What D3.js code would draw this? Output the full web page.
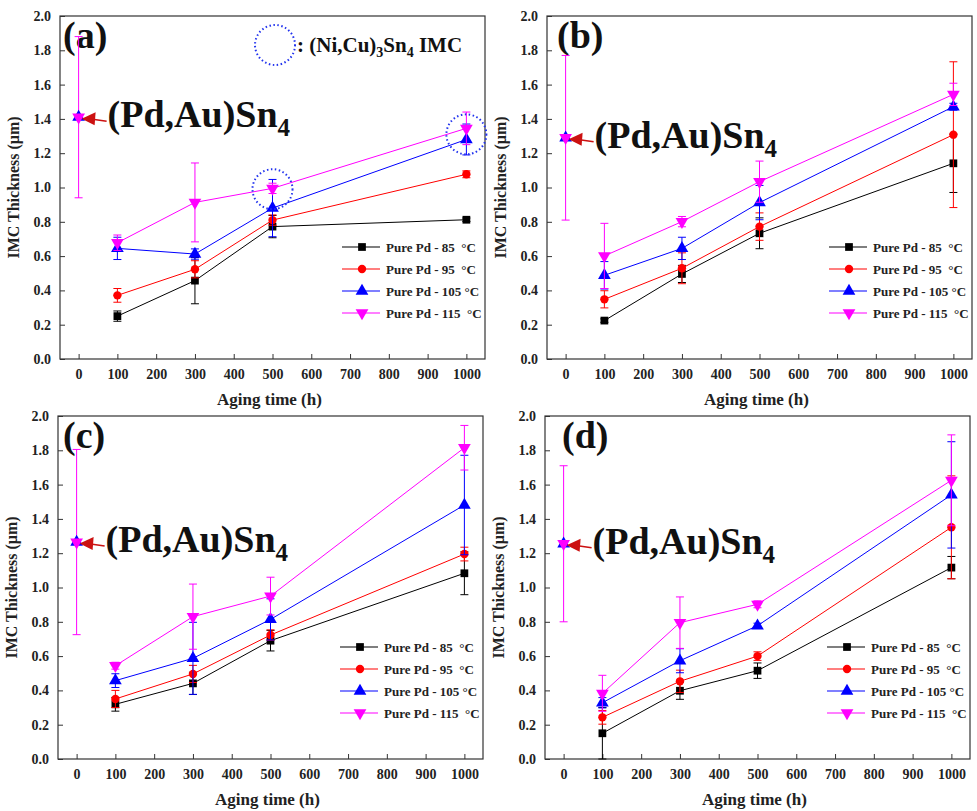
<!DOCTYPE html>
<html>
<head>
<meta charset="utf-8">
<script src="https://cdn.jsdelivr.net/npm/d3@7"></script>
<style>
  body { margin: 0; background: #fff; }
  text { font-family: "Liberation Serif", "Times New Roman", serif; font-weight: bold; }
</style>
</head>
<body>
<svg id="chart"></svg>
<script>
// data
var times = [100, 300, 500, 1000];
var xTicks = [0, 100, 200, 300, 400, 500, 600, 700, 800, 900, 1000];
var yTicks = [0, 0.2, 0.4, 0.6, 0.8, 1.0, 1.2, 1.4, 1.6, 1.8, 2.0];
var seriesNames = ["Pure Pd - 85  \u00B0C", "Pure Pd - 95  \u00B0C", "Pure Pd - 105 \u00B0C", "Pure Pd - 115  \u00B0C"];
var panelLabels = ["(a)", "(b)", "(c)", "(d)"];

var pdAuValues = [1.41, 1.29, 1.265, 1.255];
var pdAuErrors = [0.47, 0.48, 0.54, 0.455];

var valuesA = [
  [0.25, 0.457, 0.772, 0.812],
  [0.371, 0.523, 0.81, 1.077],
  [0.645, 0.612, 0.88, 1.28],
  [0.678, 0.913, 0.995, 1.345]
];
var errorsA = [
  [0.03, 0.135, 0.065, 0.01],
  [0.04, 0.05, 0.03, 0.02],
  [0.065, 0.03, 0.167, 0.09],
  [0.045, 0.23, 0.03, 0.095]
];

var valuesB = [
  [0.224, 0.496, 0.733, 1.141],
  [0.348, 0.529, 0.772, 1.308],
  [0.488, 0.645, 0.912, 1.471],
  [0.601, 0.801, 1.034, 1.543]
];
var errorsB = [
  [0.01, 0.05, 0.09, 0.17],
  [0.05, 0.09, 0.08, 0.425],
  [0.08, 0.065, 0.1, 0.02],
  [0.19, 0.03, 0.12, 0.065]
];

var valuesC = [
  [0.319, 0.441, 0.69, 1.083],
  [0.35, 0.496, 0.723, 1.195],
  [0.457, 0.587, 0.814, 1.481],
  [0.544, 0.83, 0.95, 1.815]
];
var errorsC = [
  [0.04, 0.065, 0.06, 0.125],
  [0.05, 0.05, 0.03, 0.04],
  [0.04, 0.21, 0.12, 0.29],
  [0.02, 0.19, 0.11, 0.13]
];

var valuesD = [
  [0.15, 0.398, 0.515, 1.116],
  [0.243, 0.453, 0.6, 1.351],
  [0.328, 0.573, 0.777, 1.54],
  [0.383, 0.795, 0.902, 1.625]
];
var errorsD = [
  [0.15, 0.05, 0.045, 0.065],
  [0.04, 0.065, 0.025, 0.3],
  [0.03, 0.07, 0.015, 0.31],
  [0.105, 0.15, 0.02, 0.265]
];

// (Ni,Cu)3Sn4 markers in panel (a)
var circleTimes = [500, 1000];
var circleValues = [0.99, 1.31];

var colors = ["#000000", "#ff0000", "#0000ff", "#ff00ff"];
var symbols = [d3.symbolSquare, d3.symbolCircle, d3.symbolTriangle, d3.symbolTriangle];
var symbolSizes = [60, 55, 70, 70];

var serif = "'Liberation Serif', 'Times New Roman', serif";

var width = 425,
    height = 343;

var panels = [
  {left: 60,  top: 16,  labelDx: 3,  values: valuesA, errors: errorsA},
  {left: 547, top: 16,  labelDx: 10, values: valuesB, errors: errorsB},
  {left: 58,  top: 416, labelDx: 5,  values: valuesC, errors: errorsC},
  {left: 545, top: 416, labelDx: 17, values: valuesD, errors: errorsD}
];

var svg = d3.select("#chart")
    .attr("width", 977)
    .attr("height", 811);

svg.append("rect")
    .attr("width", 977)
    .attr("height", 811)
    .attr("fill", "#fff");

var x = d3.scaleLinear().domain([-48, 1048]).range([0, width]);
var y = d3.scaleLinear().domain([0, 2.0]).range([height, 0]);

function marker(g, k, px, py) {
    g.append("path")
        .attr("d", d3.symbol().type(symbols[k]).size(symbolSizes[k])())
        .attr("transform", "translate(" + px + "," + py + ")" + (k == 3 ? " rotate(180)" : ""))
        .attr("fill", colors[k]);
}

function errorBar(g, color, px, v, e) {
    g.append("line")
        .attr("x1", px).attr("x2", px)
        .attr("y1", y(v - e)).attr("y2", y(v + e))
        .attr("stroke", color).attr("stroke-width", 1);
    [v - e, v + e].forEach(function(c) {
        g.append("line")
            .attr("x1", px - 4).attr("x2", px + 4)
            .attr("y1", y(c)).attr("y2", y(c))
            .attr("stroke", color).attr("stroke-width", 1);
    });
}

function drawPanel(p, idx) {
    var g = svg.append("g")
        .attr("transform", "translate(" + p.left + "," + p.top + ")");

    // axes, ticks inward
    var xAxis = d3.axisBottom(x).tickValues(xTicks).tickSizeInner(-5).tickSizeOuter(0).tickPadding(10)
        .tickFormat(d3.format("d"));
    var yAxis = d3.axisLeft(y).tickValues(yTicks).tickSizeInner(-5).tickSizeOuter(0).tickPadding(9)
        .tickFormat(d3.format(".1f"));

    var gx = g.append("g").attr("transform", "translate(0," + height + ")").call(xAxis);
    var gy = g.append("g").call(yAxis);
    [gx, gy].forEach(function(a) {
        a.attr("font-family", serif).attr("font-size", 14);
        a.select(".domain").remove();
        a.selectAll("line").attr("stroke", "#333");
        a.selectAll("text")
            .attr("fill", "#222")
            .style("font-family", serif)
            .style("font-size", "14px")
            .style("font-weight", "bold");
    });

    g.append("rect")
        .attr("width", width)
        .attr("height", height)
        .attr("fill", "none")
        .attr("stroke", "#333")
        .attr("stroke-width", 1.2);

    // axis titles
    g.append("text")
        .attr("transform", "translate(-41," + (height / 2) + ") rotate(-90)")
        .attr("text-anchor", "middle")
        .style("font-size", "16px")
        .attr("fill", "#222")
        .text("IMC Thickness (\u03BCm)");

    g.append("text")
        .attr("x", width / 2 - 3)
        .attr("y", height + 46)
        .attr("text-anchor", "middle")
        .style("font-size", "17px")
        .attr("fill", "#222")
        .text("Aging time (h)");

    // panel label
    g.append("text")
        .attr("x", p.labelDx)
        .attr("y", 32)
        .style("font-size", "38px")
        .attr("fill", "#111")
        .text(panelLabels[idx]);

    // series
    var line = d3.line()
        .x(function(d, i) { return x(times[i]); })
        .y(function(d) { return y(d); });

    p.values.forEach(function(vals, k) {
        g.append("path")
            .datum(vals)
            .attr("d", line)
            .attr("fill", "none")
            .attr("stroke", colors[k])
            .attr("stroke-width", 1);
        vals.forEach(function(v, i) {
            errorBar(g, colors[k], x(times[i]), v, p.errors[k][i]);
        });
        vals.forEach(function(v, i) {
            marker(g, k, x(times[i]), y(v));
        });
    });

    // (Pd,Au)Sn4 at t = 0
    var x0 = x(0), y0 = y(pdAuValues[idx]);
    errorBar(g, colors[3], x0, pdAuValues[idx], pdAuErrors[idx]);
    marker(g, 2, x0, y0);
    marker(g, 3, x0, y0);

    g.append("line")
        .attr("x1", x0 + 28).attr("y1", y0 + 4)
        .attr("x2", x0 + 14).attr("y2", y0 + 2)
        .attr("stroke", "#cc1111").attr("stroke-width", 1.5);
    g.append("path")
        .attr("d", "M" + (x0 + 3) + "," + (y0 + 1.5) + "L" + (x0 + 17) + "," + (y0 - 5) + "L" + (x0 + 16) + "," + (y0 + 8) + "Z")
        .attr("fill", "#cc1111");

    var t = g.append("text")
        .attr("x", x0 + 29)
        .attr("y", y0 + 10)
        .style("font-size", "38px")
        .attr("fill", "#111");
    t.append("tspan").text("(Pd,Au)Sn");
    t.append("tspan").attr("dy", 9).style("font-size", "25px").text("4");

    // legend
    var lg = g.append("g").attr("transform", "translate(" + (width - 143) + ",231)");
    seriesNames.forEach(function(name, k) {
        var row = lg.append("g").attr("transform", "translate(0," + (k * 22) + ")");
        row.append("line")
            .attr("x1", 0).attr("x2", 38)
            .attr("stroke", colors[k]).attr("stroke-width", 1.2);
        marker(row, k, 20, 0);
        row.append("text")
            .attr("x", 44)
            .attr("y", 4.5)
            .style("font-size", "13px")
            .style("white-space", "pre")
            .attr("fill", "#222")
            .text(name);
    });

    if (idx == 0) {
        circleTimes.forEach(function(t, i) {
            g.append("circle")
                .attr("cx", x(t))
                .attr("cy", y(circleValues[i]))
                .attr("r", 20)
                .attr("fill", "none")
                .attr("stroke", "#2233ee")
                .attr("stroke-width", 2)
                .attr("stroke-dasharray", "1.5,2.5");
        });
        g.append("circle")
            .attr("cx", 215).attr("cy", 29).attr("r", 20)
            .attr("fill", "none")
            .attr("stroke", "#2233ee")
            .attr("stroke-width", 2)
            .attr("stroke-dasharray", "1.5,2.5");
        var nt = g.append("text")
            .attr("x", 237)
            .attr("y", 36)
            .style("font-size", "21px")
            .attr("fill", "#111");
        nt.append("tspan").text(": (Ni,Cu)");
        nt.append("tspan").attr("dy", 5).style("font-size", "14px").text("3");
        nt.append("tspan").attr("dy", -5).text("Sn");
        nt.append("tspan").attr("dy", 5).style("font-size", "14px").text("4");
        nt.append("tspan").attr("dy", -5).text(" IMC");
    }
}

panels.forEach(drawPanel);
</script>
</body>
</html>
